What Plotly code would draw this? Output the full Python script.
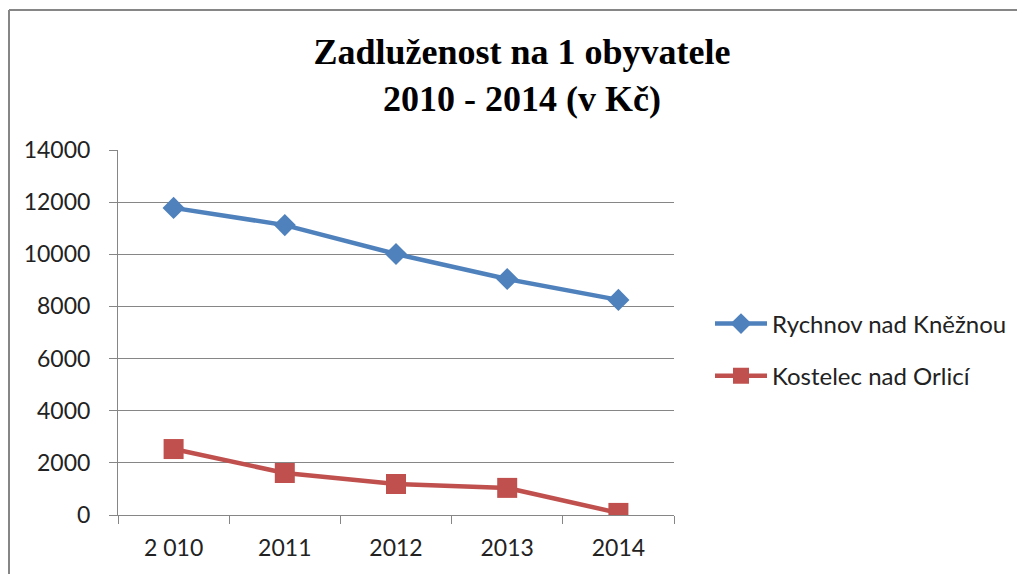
import plotly.graph_objects as go

years = ["2 010", "2011", "2012", "2013", "2014"]
rychnov = [11780, 11120, 10010, 9050, 8250]
kostelec = [2530, 1610, 1190, 1040, 80]
series_names = ["Rychnov nad Kněžnou", "Kostelec nad Orlicí"]
title_text = "<b>Zadluženost na 1 obyvatele<br>2010 - 2014 (v Kč)</b>"

fig = go.Figure()
fig.add_trace(go.Scatter(
    x=years, y=rychnov, name=series_names[0], mode="lines+markers",
    line=dict(color="#4F81BD", width=4.5),
    marker=dict(symbol="diamond", size=17, color="#4F81BD"),
    legendgroup="a",
))
fig.add_trace(go.Scatter(
    x=years, y=kostelec, name=series_names[1], mode="lines+markers",
    line=dict(color="#C0504D", width=4.5),
    marker=dict(symbol="square", size=20, color="#C0504D"),
    legendgroup="b",
))

OFF = 8  # page body margin
W, H = 1025 - OFF, 574 - OFF
# plot area in screen pixels: x 118..674, y 150..515
L, R, T, B = 118 - OFF, 1025 - 674, 150 - OFF, 574 - 515
pw, ph = W - L - R, H - T - B

def px(x):
    return (x - 118) / pw

def py(y):
    return (515 - y) / ph

fig.update_layout(
    width=W, height=H,
    margin=dict(l=L, r=R, t=T, b=B, autoexpand=False),
    paper_bgcolor="white", plot_bgcolor="white",
    title=dict(text=title_text, x=(522 - OFF) / W, xanchor="center", y=1 - (64 - OFF) / H, yanchor="top",
               font=dict(family="Liberation Serif", size=36, color="black")),
    font=dict(family="Lato", color="#222222"),
    legend=dict(x=px(710), y=py(350), xanchor="left", yanchor="middle",
                font=dict(size=24, family="Lato", color="#222222"),
                traceorder="grouped", tracegroupgap=18, itemwidth=52),
    showlegend=True,
    xaxis=dict(type="category", range=[-0.5, 4.5], showgrid=False,
               showline=True, linecolor="#868686", linewidth=1,
               ticks="outside", tickson="boundaries", ticklen=8, tickcolor="#868686",
               tickfont=dict(size=23, family="Lato", color="#222222"),
               zeroline=False, ticklabelstandoff=12),
    yaxis=dict(range=[0, 14000], dtick=2000, tickformat="d", showgrid=True, gridcolor="#868686", gridwidth=1,
               showline=True, linecolor="#868686", linewidth=1,
               ticks="outside", ticklen=8, tickcolor="#868686",
               tickfont=dict(size=23, family="Lato", color="#222222"),
               zeroline=False, ticklabelstandoff=14),
    shapes=[
        dict(type="line", xref="paper", yref="paper", x0=px(9), x1=px(9), y0=py(10), y1=py(600),
             line=dict(color="#868686", width=2)),
        dict(type="line", xref="paper", yref="paper", x0=px(9), x1=px(1030), y0=py(10), y1=py(10),
             line=dict(color="#868686", width=2)),
    ],
)

fig.write_html("out.html")
